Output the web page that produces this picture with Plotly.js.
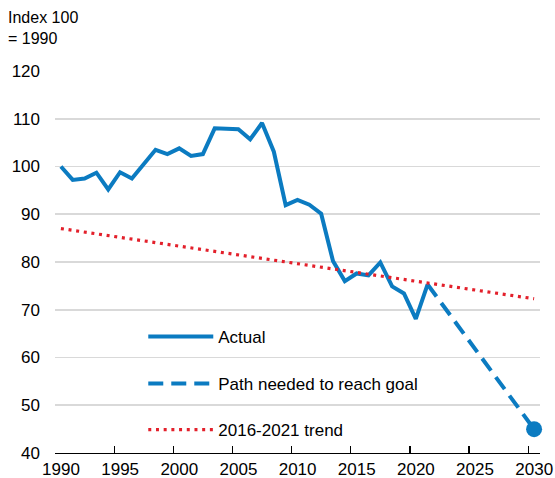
<!DOCTYPE html>
<html>
<head>
<meta charset="utf-8">
<script src="https://cdn.plot.ly/plotly-3.0.1.min.js"></script>
<style>
  html, body { margin: 0; padding: 0; background: #fff; }
  #chart { width: 555px; height: 478px; }
</style>
</head>
<body>
<div id="chart"></div>
<script>
// ---- Data ----
const actualYears = [1990,1991,1992,1993,1994,1995,1996,1997,1998,1999,2000,2001,2002,2003,2004,2005,2006,2007,2008,2009,2010,2011,2012,2013,2014,2015,2016,2017,2018,2019,2020,2021];
const actualValues = [100.0,97.2,97.5,98.7,95.2,98.8,97.5,100.5,103.5,102.6,103.8,102.2,102.6,108.0,107.8,107.8,105.7,109.1,103.1,91.9,93.0,92.0,90.1,80.2,76.0,77.6,77.2,79.9,74.9,73.4,68.1,75.3];
const pathYears = [2021, 2030];
const pathValues = [75.3, 45];
const goalYears = [2030];
const goalValues = [45];
const trendYears = [1990, 2030];
const trendValues = [87.0, 72.3];
const xTickLabels = ['1990','1995','2000','2005','2010','2015','2020','2025','2030'];
const yTickValues = [40,50,60,70,80,90,100,110,120];
const seriesNames = ['Actual', 'Path needed to reach goal', '2016-2021 trend'];

const BLUE = '#0b7bc1';
const RED = '#e3202b';
const FONT = '"Liberation Sans Narrow", "Arial Narrow", "Liberation Sans", Arial, sans-serif';

const traces = [
  { x: actualYears, y: actualValues, type: 'scatter', mode: 'lines', name: seriesNames[0],
    line: { color: BLUE, width: 4 }, legend: 'legend', hoverinfo: 'skip' },
  { x: pathYears, y: pathValues, type: 'scatter', mode: 'lines', name: seriesNames[1],
    line: { color: BLUE, width: 4, dash: '15px,8px' }, legend: 'legend2', hoverinfo: 'skip' },
  { x: goalYears, y: goalValues, type: 'scatter', mode: 'markers', showlegend: false,
    marker: { color: BLUE, size: 16 }, hoverinfo: 'skip', cliponaxis: false },
  { x: trendYears, y: trendValues, type: 'scatter', mode: 'lines', name: seriesNames[2],
    line: { color: RED, width: 3.2, dash: '3px,4.7px' }, legend: 'legend3', hoverinfo: 'skip' }
];

const legendBase = {
  bgcolor: 'rgba(0,0,0,0)', borderwidth: 0,
  font: { family: FONT, size: 17, color: '#000' },
  xanchor: 'left', yanchor: 'middle', itemwidth: 65
};

const layout = {
  width: 555, height: 478,
  margin: { l: 55, r: 15, t: 71, b: 25 },
  paper_bgcolor: '#fff', plot_bgcolor: '#fff',
  font: { family: FONT, size: 17, color: '#000' },
  xaxis: {
    range: [1989.5, 2030.5],
    tickvals: xTickLabels.map(v => +v - 0.5),
    ticktext: xTickLabels,
    ticklabelshift: 6,
    ticks: 'inside', ticklen: 7, tickwidth: 1.3, tickcolor: '#000',
    showline: true, linecolor: '#000', linewidth: 1.3,
    showgrid: false, zeroline: false,
    tickfont: { family: FONT, size: 17, color: '#000' },
    fixedrange: true
  },
  yaxis: {
    range: [40, 120],
    tickvals: yTickValues,
    ticks: '', showline: false,
    showgrid: true, gridcolor: '#d9d9d9', gridwidth: 1.6,
    zeroline: false,
    ticklabelstandoff: 14,
    tickfont: { family: FONT, size: 17, color: '#000' },
    fixedrange: true
  },
  showlegend: true,
  legend: Object.assign({}, legendBase, { x: 0.182, y: 0.304 }),
  legend2: Object.assign({}, legendBase, { x: 0.182, y: 0.181 }),
  legend3: Object.assign({}, legendBase, { x: 0.182, y: 0.060 }),
  annotations: [{
    text: 'Index 100<br>= 1990', xref: 'paper', yref: 'paper',
    x: 0, y: 1, xanchor: 'left', yanchor: 'top', align: 'left',
    xshift: -49, yshift: 64, showarrow: false,
    font: { family: FONT, size: 16, color: '#000' }
  }]
};

Plotly.newPlot('chart', traces, layout, { displayModeBar: false, staticPlot: true });
</script>
</body>
</html>
